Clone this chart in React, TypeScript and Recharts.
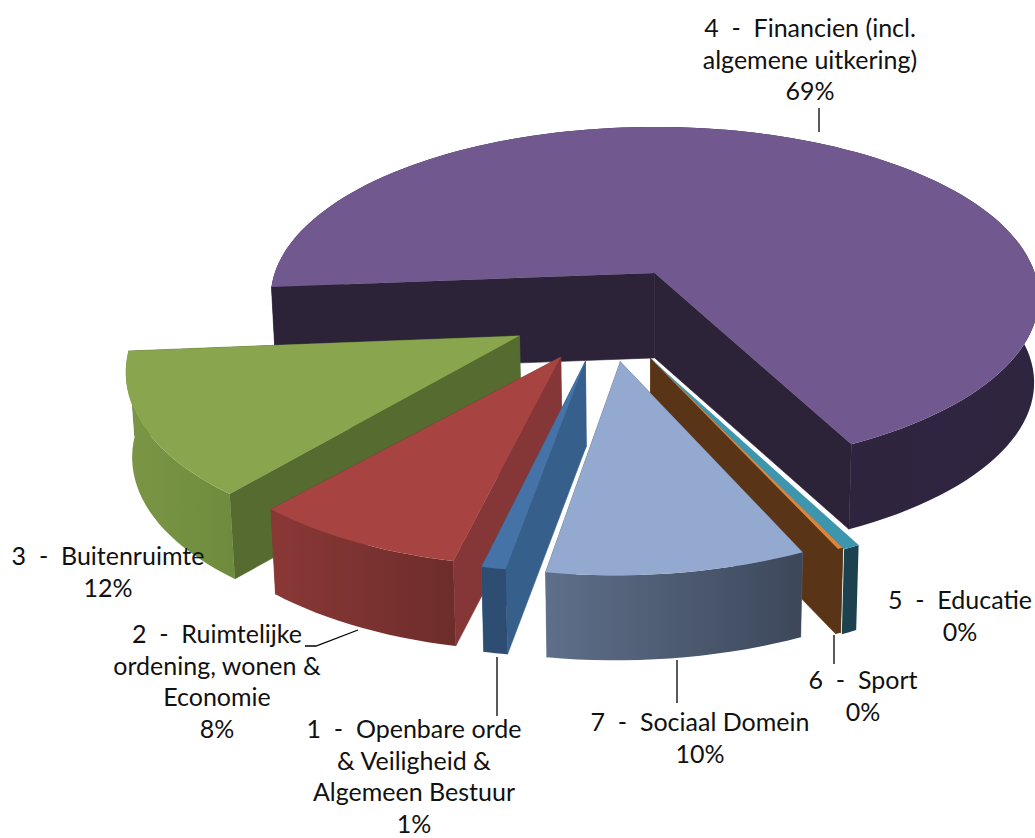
import { Pie, PieChart } from "recharts";

// drawn back to front, counter clockwise on screen
const sliceIds = ["6", "5", "4", "3", "2", "1", "7"];
const sliceValues = [0.2, 0.6, 68.59, 12.33, 8.0, 0.89, 9.39];
const sliceNames = [
  ["6  -  Sport"],
  ["5  -  Educatie"],
  ["4  -  Financien (incl.", "algemene uitkering)"],
  ["3  -  Buitenruimte"],
  ["2  -  Ruimtelijke", "ordening, wonen &", "Economie"],
  ["1  -  Openbare orde", "& Veiligheid &", "Algemeen Bestuur"],
  ["7  -  Sociaal Domein"],
];
const percentLabels = ["0%", "0%", "69%", "12%", "8%", "1%", "10%"];

const pieData = sliceIds.map((id, i) => ({
  id,
  value: sliceValues[i],
  lines: [...sliceNames[i], percentLabels[i]],
}));

// look of the 3D wedges
const DEPTH = 85;
const RATIO = 0.44;
const PERSPECTIVE = 0.145;
const CONVERGE = 0.012;
const CENTER = [-0.12, 0.245];

const STYLES: Record<string, any> = {
  "4": { top: "#71588f", cut: "#2d2339", wall: ["#2d2339", "#2f2540"], explode: 0.28, radius: 1, nudge: -0.015, growStart: 1.1, growEnd: 0 },
  "3": { top: "#89a54e", cut: "#556b2f", wall: ["#7a9645", "#6f8c3e"], explode: 0.245, radius: 0.963, nudge: 0, growStart: 0, growEnd: 2.2 },
  "2": { top: "#a74442", cut: "#843736", wall: ["#8a3836", "#6d2d2b"], explode: 0.25, radius: 0.93, nudge: 0, growStart: 0, growEnd: 0 },
  "1": { top: "#4572a7", cut: "#365f8c", wall: ["#2d4d73", "#2d4d73"], explode: 0.25, radius: 0.93, nudge: -0.005, growStart: 0, growEnd: 0 },
  "7": { top: "#93a9cf", cut: "#5f6f8a", wall: ["#5f6f8a", "#3c475a"], explode: 0.25, radius: 0.94, nudge: 0, growStart: 0, growEnd: 0 },
  "6": { top: "#db843d", cut: "#5a3416", wall: ["#5a3416", "#5a3416"], explode: 0.255, radius: 0.945, nudge: 0, growStart: 0, growEnd: 0 },
  "5": { top: "#3d96ae", cut: null, wall: ["#1b424e", "#1b424e"], explode: 0.255, radius: 0.955, nudge: -0.008, growStart: 0, growEnd: 0 },
};

const LABELS: Record<string, any> = {
  "4": { x: 810, y: 37, leader: "819,108 819,132" },
  "3": { x: 108, y: 565 },
  "2": { x: 217, y: 643, leader: "305,646 316,646 358,630" },
  "1": { x: 414, y: 738, leader: "497,657 497,716" },
  "7": { x: 700, y: 731, leader: "677,660 677,703" },
  "6": { x: 863, y: 689, leader: "834,635 834,664" },
  "5": { x: 960, y: 609 },
};

function Wedge(props: any) {
  const { cx, cy, outerRadius, payload } = props;
  const style = STYLES[payload.id];
  const startAngle = props.startAngle - style.growStart;
  const endAngle = props.endAngle + style.growEnd;
  const rad = (a: number) => (a * Math.PI) / 180;
  const mid = rad((props.startAngle + props.endAngle) / 2);
  const ax = CENTER[0] + style.nudge + style.explode * Math.cos(mid);
  const ay = CENTER[1] - style.explode * Math.sin(mid);

  const project = (gx: number, gy: number) => {
    const k = 1 / (1 - gy * PERSPECTIVE);
    return [cx + gx * outerRadius * k, cy + gy * outerRadius * RATIO * k];
  };
  const steps = Math.max(2, Math.ceil(Math.abs(endAngle - startAngle) / 2));
  const rim: number[][] = [];
  for (let i = 0; i <= steps; i++) {
    const a = rad(startAngle + ((endAngle - startAngle) * i) / steps);
    rim.push(project(ax + style.radius * Math.cos(a), ay - style.radius * Math.sin(a)));
  }
  const apex = project(ax, ay);
  const pts = (list: number[][]) => list.map((p) => `${p[0]},${p[1]}`).join(" ");
  const down = (p: number[]) => [p[0] + (cx - p[0]) * CONVERGE, p[1] + DEPTH];

  const first = rim[0];
  const last = rim[rim.length - 1];
  const xs = rim.map((p) => p[0]);
  const gradId = `wall-${payload.id}`;
  const wall = (
    <polygon points={pts([...rim, ...[...rim].reverse().map(down)])} fill={`url(#${gradId})`} />
  );
  const cuts = style.cut && (
    <g fill={style.cut} stroke={style.cut} strokeWidth={0.6}>
      <polygon points={pts([apex, first, down(first), down(apex)])} />
      <polygon points={pts([apex, last, down(last), down(apex)])} />
    </g>
  );
  const reflex = Math.abs(endAngle - startAngle) > 180;

  return (
    <g>
      <defs>
        <linearGradient
          id={gradId}
          gradientUnits="userSpaceOnUse"
          x1={Math.min(...xs)}
          x2={Math.max(...xs)}
          y1={0}
          y2={0}
        >
          <stop offset="0%" stopColor={style.wall[0]} />
          <stop offset="100%" stopColor={style.wall[1]} />
        </linearGradient>
      </defs>
      {reflex ? wall : cuts}
      {reflex ? cuts : wall}
      <polygon points={pts([apex, ...rim])} fill={style.top} />
    </g>
  );
}

function SliceLabel(props: any) {
  const { payload } = props;
  const row = payload.payload ?? payload;
  const layout = LABELS[row.id];
  return (
    <g>
      {layout.leader && <polyline points={layout.leader} fill="none" stroke="#000" strokeWidth={1.3} />}
      {row.lines.map((line: string, i: number) => (
        <text
          key={i}
          x={layout.x}
          y={layout.y + i * 31.7}
          textAnchor="middle"
          fontFamily="Lato"
          fontSize={25}
          fill="#111"
          style={{ whiteSpace: "pre" }}
        >
          {line}
        </text>
      ))}
    </g>
  );
}

export default function App() {
  return (
    <div style={{ position: "absolute", left: 0, top: 0, width: 1035, height: 838, background: "#fff" }}>
      <PieChart width={1035} height={838} margin={{ top: 0, right: 0, bottom: 0, left: 0 }}>
        <Pie
          data={pieData}
          dataKey="value"
          cx={655}
          cy={273}
          innerRadius={0}
          outerRadius={380}
          startAngle={-65}
          endAngle={295}
          stroke="none"
          shape={Wedge}
          label={SliceLabel}
          labelLine={false}
          isAnimationActive={false}
        />
      </PieChart>
    </div>
  );
}
